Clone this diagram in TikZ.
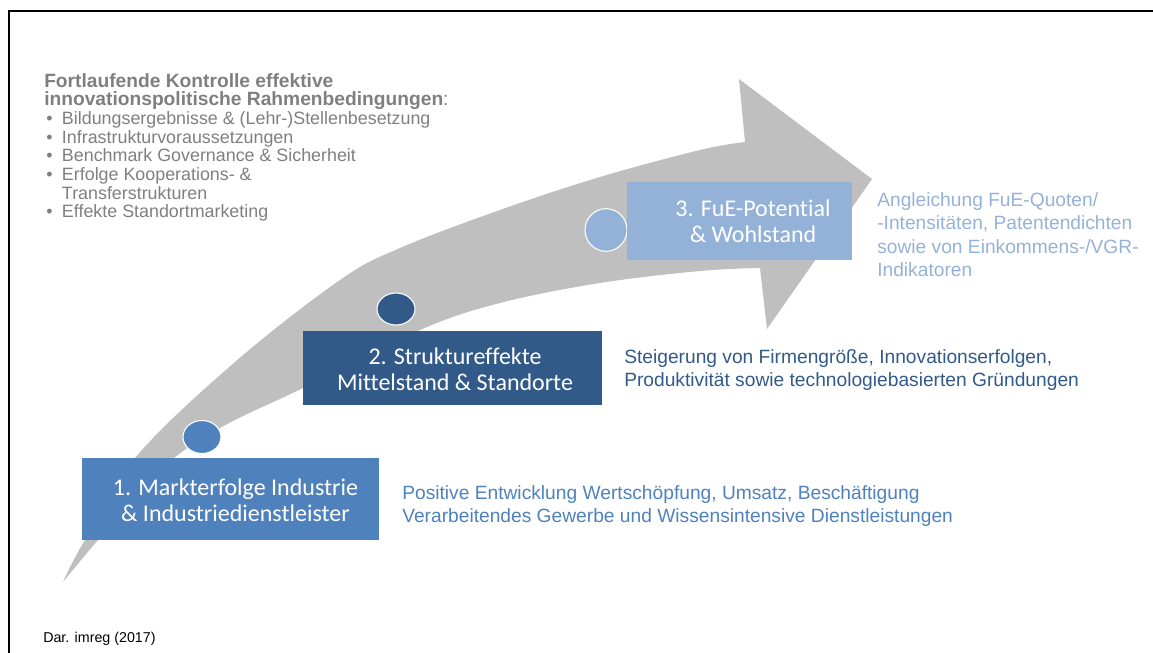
\documentclass[tikz,border=0pt]{standalone}
\usepackage{fontspec}
\usetikzlibrary{shapes.geometric}
\setmainfont{Liberation Sans}
\newfontfamily\boxfont[Ligatures={NoCommon}]{Carlito}
\definecolor{arrowgray}{HTML}{BFBFBF}
\definecolor{bone}{HTML}{4F81BD}
\definecolor{btwo}{HTML}{325A89}
\definecolor{bthree}{HTML}{94B2D7}
\definecolor{txtgray}{HTML}{7F7F7F}
\begin{document}
\begin{tikzpicture}[x=0.75pt,y=-0.75pt,
  stepbox/.style={inner sep=0pt, outer sep=0pt},
  boxtext/.style={text=white, font=\boxfont\fontsize{18}{19.8}\selectfont, align=center, inner sep=0pt},
  dot/.style={ellipse, draw=white, line width=0.8pt, inner sep=0pt},
  desc/.style={anchor=west, align=left, inner sep=0pt, font=\fontsize{14.4}{17.6}\selectfont}
]
\useasboundingbox (0,0) rectangle (1153,653);
% frame
\draw[line width=1.7pt] (9,653) -- (9,11) -- (1153,11);
% curved arrow
\fill[arrowgray]
  plot[smooth, tension=0.6] coordinates {(63,582) (82,545) (135,458) (235,362) (340,280) (400,248) (500,210) (600,177) (700,150) (745,142)}
  -- (739,79) -- (872,179) -- (767,329) -- (760,268)
  -- plot[smooth, tension=0.6] coordinates {(760,268) (700,271) (600,283) (500,303) (420,330) (303,388) (220,428) (160,470) (98,540) (63,582)}
  -- cycle;
% circles
\node[dot, fill=bone, minimum width=28.5pt, minimum height=24.75pt] (c1) at (202,437) {};
\node[dot, fill=btwo, minimum width=28.5pt, minimum height=24pt] (c2) at (396,309) {};
\node[dot, fill=bthree, minimum width=31.5pt, minimum height=32pt] (c3) at (606,230) {};
% boxes
\node[stepbox, fill=bone, minimum width=222.75pt, minimum height=61.5pt] (b1) at (230.5,499) {};
\node[stepbox, fill=btwo, minimum width=224.25pt, minimum height=55.5pt] (b2) at (452.5,368) {};
\node[stepbox, fill=bthree, minimum width=168.75pt, minimum height=58.5pt] (b3) at (739.5,220.5) {};
\node[boxtext] (t1) at (235.5,500) {1. Markterfolge Industrie\\\& Industriedienstleister};
\node[boxtext] (t2) at (455,369) {2. Struktureffekte\\Mittelstand \& Standorte};
\node[boxtext] (t3) at (753,221) {3. FuE-Potential\\\& Wohlstand};
% descriptions
\node[desc, text=bone] (d1) at (402,506) {Positive Entwicklung Wertschöpfung, Umsatz, Beschäftigung\\Verarbeitendes Gewerbe und Wissensintensive Dienstleistungen};
\node[desc, text=btwo] (d2) at (624,370) {Steigerung von Firmengröße, Innovationserfolgen,\\Produktivität sowie technologiebasierten Gründungen};
\node[desc, text=bthree] (d3) at (877,234.5) {Angleichung FuE-Quoten/\\-Intensitäten, Patentendichten\\sowie von Einkommens-/VGR-\\Indikatoren};
% top-left list
\node[anchor=north west, align=left, inner sep=0pt, text=txtgray, font=\fontsize{13.4}{14}\selectfont] (list) at (44,73)
{{\fontsize{14.4}{14}\selectfont\textbf{Fortlaufende Kontrolle effektive}}\\
{\fontsize{14.4}{14}\selectfont\textbf{innovationspolitische Rahmenbedingungen}:}\\
\hspace*{1.5pt}\makebox[11.8pt][l]{•}Bildungsergebnisse \& (Lehr-)Stellenbesetzung\\
\hspace*{1.5pt}\makebox[11.8pt][l]{•}Infrastrukturvoraussetzungen\\
\hspace*{1.5pt}\makebox[11.8pt][l]{•}Benchmark Governance \& Sicherheit\\
\hspace*{1.5pt}\makebox[11.8pt][l]{•}Erfolge Kooperations- \&\\
\hspace*{13.3pt}Transferstrukturen\\
\hspace*{1.5pt}\makebox[11.8pt][l]{•}Effekte Standortmarketing};
% source
\node[anchor=west, inner sep=0pt, font=\fontsize{10.7}{12}\selectfont] (src) at (43,639) {Dar. imreg (2017)};
\end{tikzpicture}
\end{document}
